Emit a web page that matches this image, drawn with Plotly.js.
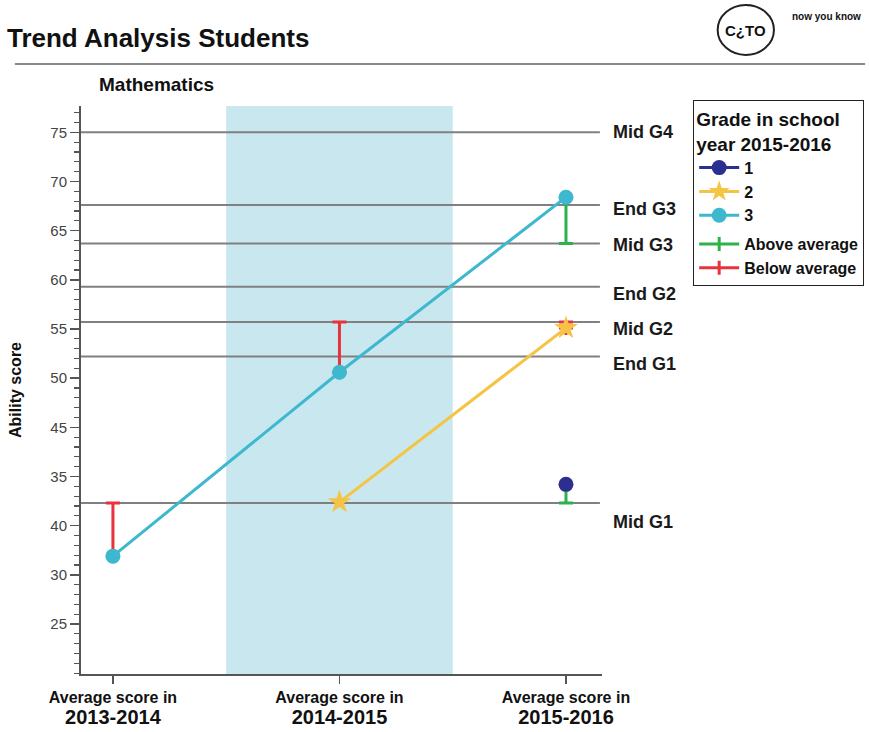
<!DOCTYPE html>
<html><head><meta charset="utf-8">
<script src="https://cdn.plot.ly/plotly-3.0.1.min.js"></script>
<style>body{margin:0;background:#fff}#chart{width:869px;height:732px}</style>
</head><body><div id="chart"></div>
<script>
// ---- data ----
const categories = ['2013-2014', '2014-2015', '2015-2016'];
const xPos = [0, 1, 2];
const grade1 = [null, null, 39.2];
const grade2 = [null, 37.4, 55.1];
const grade3 = [31.9, 50.6, 68.4];
const levelNames = ['Mid G4', 'End G3', 'Mid G3', 'End G2', 'Mid G2', 'End G1', 'Mid G1'];
const levelValues = [75, 67.6, 63.7, 59.3, 55.7, 52.2, 37.3];
const yTickVals = [25, 30, 35, 40, 45, 50, 55, 60, 65, 70, 75];
const yTickText = ['25', '30', '40', '35', '45', '50', '55', '60', '65', '70', '75'];
// below / above average: score and the mid-grade level it is compared with
const belowX = [0, 1, 2];
const belowScore = [31.9, 50.6, 55.1];
const belowRef = [37.3, 55.7, 55.7];
const aboveX = [2, 2];
const aboveScore = [68.4, 39.2];
const aboveRef = [63.7, 37.3];

// ---- style ----
const FONT = 'Liberation Sans, Arial, Helvetica, sans-serif';
const C = {g1: '#2b2f8f', g2: '#f6c444', g3: '#3db8cf', above: '#2cb24a', below: '#e8333c', band: '#c9e7ef', level: '#808080', axis: '#555'};
const labelShift = [0, -4, -2, -7, -7, -7, -19];

function interleave(arr) {
  const out = [];
  arr.forEach((v, i) => { if (i) out.push(null); out.push(v); });
  return out;
}

const errMarker = (col) => ({symbol: 'line-ns-open', size: 10, line: {width: 3, color: col}, color: col});

const traces = [
  {name: 'Above average', x: interleave(aboveX), y: interleave(aboveScore), mode: 'lines+markers',
   line: {color: C.above, width: 3}, marker: errMarker(C.above), legendgroup: 'e', legendrank: 5,
   error_y: {type: 'data', symmetric: false, array: interleave(aboveScore.map(() => 0)),
     arrayminus: interleave(aboveScore.map((s, i) => s - aboveRef[i])), color: C.above, thickness: 3, width: 7},
   hoverinfo: 'skip'},
  {name: 'Below average', x: interleave(belowX), y: interleave(belowScore), mode: 'lines+markers',
   line: {color: C.below, width: 3}, marker: errMarker(C.below), legendgroup: 'e', legendrank: 6,
   error_y: {type: 'data', symmetric: false, array: interleave(belowRef.map((r, i) => r - belowScore[i])),
     arrayminus: interleave(belowScore.map(() => 0)), color: C.below, thickness: 3, width: 7},
   hoverinfo: 'skip'},
  {name: '1', x: xPos, y: grade1, mode: 'lines+markers', legendgroup: 'g', legendrank: 1,
   line: {color: C.g1, width: 3}, marker: {color: C.g1, size: 15, symbol: 'circle'}},
  {name: '2', x: xPos, y: grade2, mode: 'lines+markers', legendgroup: 'g', legendrank: 2,
   line: {color: C.g2, width: 3}, marker: {color: C.g2, size: 18, symbol: 'star'}},
  {name: '3', x: xPos, y: grade3, mode: 'lines+markers', legendgroup: 'g', legendrank: 3,
   line: {color: C.g3, width: 3}, marker: {color: C.g3, size: 15, symbol: 'circle'}}
];

const shapes = [
  {type: 'rect', xref: 'x', yref: 'paper', x0: xPos[1] - 0.5, x1: xPos[1] + 0.5, y0: 0, y1: 1,
   fillcolor: C.band, line: {width: 0}, layer: 'below'},
  {type: 'line', xref: 'paper', yref: 'paper', x0: -0.127, x1: 1.505, y0: 1.074, y1: 1.074,
   line: {color: '#8a8a8a', width: 2}},
  {type: 'circle', xref: 'paper', yref: 'paper', x0: 1.222, x1: 1.33, y0: 1.09, y1: 1.178,
   line: {color: '#222', width: 2}}
];
levelValues.forEach(v => shapes.push({type: 'line', xref: 'paper', yref: 'y', x0: 0, x1: 0.996, y0: v, y1: v,
  line: {color: C.level, width: 2}, layer: 'below'}));

const annotations = [
  {text: '<b>Mathematics</b>', xref: 'paper', yref: 'paper', x: 0.031, y: 1.037, xanchor: 'left', yanchor: 'middle',
   showarrow: false, font: {family: FONT, size: 19, color: '#111'}},
  {text: '<b>C¿TO</b>', xref: 'paper', yref: 'paper', x: 1.276, y: 1.133, xanchor: 'center', yanchor: 'middle',
   showarrow: false, font: {family: FONT, size: 15, color: '#111'}},
  {text: '<b>now you know</b>', xref: 'paper', yref: 'paper', x: 1.36, y: 1.157, xanchor: 'left', yanchor: 'middle',
   showarrow: false, font: {family: FONT, size: 10, color: '#111'}}
];
levelNames.forEach((n, i) => annotations.push({text: '<b>' + n + '</b>', xref: 'paper', yref: 'y',
  x: 1.017, y: levelValues[i], yshift: labelShift[i], xanchor: 'left', yanchor: 'middle', showarrow: false,
  font: {family: FONT, size: 18, color: '#1a1a1a'}}));

const layout = {
  width: 869, height: 732,
  margin: {l: 81, r: 267, t: 106, b: 58, autoexpand: false},
  paper_bgcolor: '#fff', plot_bgcolor: '#fff',
  font: {family: FONT, color: '#222'},
  title: {text: '<b>Trend Analysis Students</b>', xref: 'container', yref: 'container', x: 0.008, xanchor: 'left',
    y: 0.948, yanchor: 'middle', font: {family: FONT, size: 26, color: '#111'}},
  xaxis: {range: [-0.141, 2.159], tickvals: xPos,
    ticktext: categories.map(c => 'Average score in<br><span style="font-size:20px">' + c + '</span>'),
    tickfont: {family: FONT, size: 16, color: '#111', weight: 'bold'},
    showgrid: false, zeroline: false, showline: true, linecolor: C.axis, linewidth: 2, mirror: false,
    ticks: 'outside', ticklen: 8, tickwidth: 1.5, tickcolor: C.axis, fixedrange: true},
  yaxis: {range: [19.92, 77.67], tickvals: yTickVals, ticktext: yTickText,
    tickfont: {family: FONT, size: 15, color: '#444'},
    showgrid: false, zeroline: false, showline: true, linecolor: C.axis, linewidth: 2, mirror: false,
    ticks: 'outside', ticklen: 9, tickwidth: 1.5, tickcolor: C.axis,
    minor: {dtick: 1, tick0: 0, ticks: 'outside', ticklen: 5, tickwidth: 1.2, tickcolor: C.axis, showgrid: false},
    title: {text: '<b>Ability score</b>', font: {family: FONT, size: 16, color: '#111'}, standoff: 25}},
  legend: {x: 1.175, y: 1.01, xanchor: 'left', yanchor: 'top', bgcolor: '#fff', bordercolor: '#222', borderwidth: 1,
    font: {family: FONT, size: 16, color: '#111', weight: 'bold'}, traceorder: 'grouped', tracegroupgap: 5,
    itemwidth: 40, title: {text: '<b>Grade in school<br>year 2015-2016</b>', font: {family: FONT, size: 19, color: '#111'}}},
  shapes: shapes,
  annotations: annotations,
  showlegend: true
};

Plotly.newPlot('chart', traces, layout, {displayModeBar: false, staticPlot: true});
</script>
</body></html>
